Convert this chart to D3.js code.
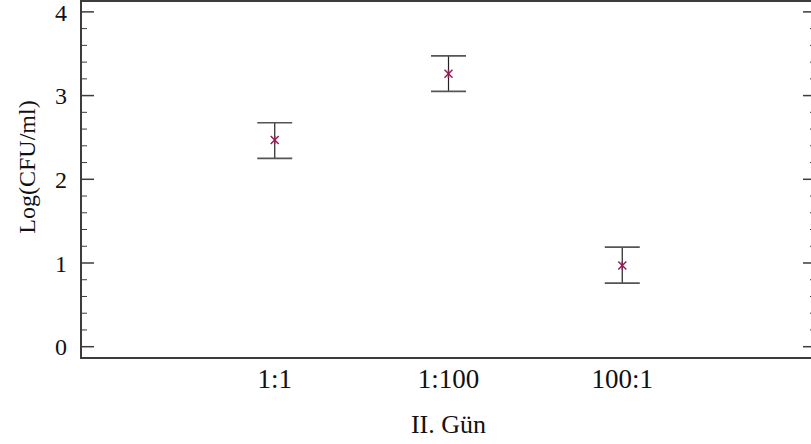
<!DOCTYPE html>
<html><head><meta charset="utf-8">
<script src="https://cdn.jsdelivr.net/npm/d3@7"></script>
<style>body{margin:0;background:#fff}svg{display:block}</style>
</head><body>
<svg id="c" width="811" height="444"></svg>
<script>
const categories = ["1:1", "1:100", "100:1"];
const means = [2.47, 3.26, 0.97];
const lower = [2.25, 3.05, 0.76];
const upper = [2.675, 3.475, 1.19];
const yTicks = [0, 1, 2, 3, 4];
const yLabel = "Log(CFU/ml)";
const xLabel = "II. Gün";

const svg = d3.select("#c");
const L = 81, R = 816, T = 1, B = 358;
const font = "'Liberation Serif','Times New Roman',serif";

const x = d3.scalePoint().domain(categories).range([L, R]).padding(1.115);
const y = d3.scaleLinear().domain([-0.135, 4.13]).range([B, T]);

const axisColor = "#3c3c3c";
svg.append("rect").attr("x", L).attr("y", T).attr("width", R - L).attr("height", B - T)
  .attr("fill", "none").attr("stroke", axisColor).attr("stroke-width", 2);

const minor = d3.range(0, 4.01, 0.2).filter(v => Math.abs(v - Math.round(v)) > 1e-6);
const g = svg.append("g");
yTicks.forEach(v => {
  g.append("line").attr("x1", L).attr("x2", L + 13).attr("y1", y(v)).attr("y2", y(v))
    .attr("stroke", axisColor).attr("stroke-width", 1.5);
  g.append("line").attr("x1", R).attr("x2", R - 13).attr("y1", y(v)).attr("y2", y(v))
    .attr("stroke", axisColor).attr("stroke-width", 1.5);
  g.append("text").attr("x", 67).attr("y", y(v)).attr("dy", "0.36em")
    .attr("text-anchor", "end").attr("font-family", font).attr("font-size", 24)
    .attr("fill", "#111").text(v);
});
minor.forEach(v => {
  g.append("line").attr("x1", L).attr("x2", L + 6).attr("y1", y(v)).attr("y2", y(v))
    .attr("stroke", axisColor).attr("stroke-width", 1);
  g.append("line").attr("x1", R).attr("x2", R - 6).attr("y1", y(v)).attr("y2", y(v))
    .attr("stroke", axisColor).attr("stroke-width", 1);
});

categories.forEach(c => {
  svg.append("text").attr("x", x(c)).attr("y", 388).attr("text-anchor", "middle")
    .attr("font-family", font).attr("font-size", 27).attr("fill", "#111").text(c);
});

svg.append("text").attr("x", x(categories[1])).attr("y", 433).attr("text-anchor", "middle")
  .attr("font-family", font).attr("font-size", 26).attr("fill", "#111").text(xLabel);
svg.append("text").attr("transform", "translate(35,167) rotate(-90)").attr("text-anchor", "middle")
  .attr("font-family", font).attr("font-size", 24).attr("fill", "#111").text(yLabel);

const cap = 17.5;
categories.forEach((c, i) => {
  const cx = x(c);
  svg.append("line").attr("x1", cx).attr("x2", cx).attr("y1", y(upper[i])).attr("y2", y(lower[i]))
    .attr("stroke", "#222").attr("stroke-width", 1.2);
  [upper[i], lower[i]].forEach(v => {
    svg.append("line").attr("x1", cx - cap).attr("x2", cx + cap).attr("y1", y(v)).attr("y2", y(v))
      .attr("stroke", "#555").attr("stroke-width", 1.6);
  });
  const my = y(means[i]);
  const s = 4;
  const mk = svg.append("g").attr("stroke", "#8e1f55").attr("stroke-width", 1.5);
  mk.append("line").attr("x1", cx - s).attr("x2", cx + s).attr("y1", my - s).attr("y2", my + s);
  mk.append("line").attr("x1", cx - s).attr("x2", cx + s).attr("y1", my + s).attr("y2", my - s);
  mk.append("line").attr("x1", cx).attr("x2", cx).attr("y1", my - s).attr("y2", my + s);
});
</script>
</body></html>
